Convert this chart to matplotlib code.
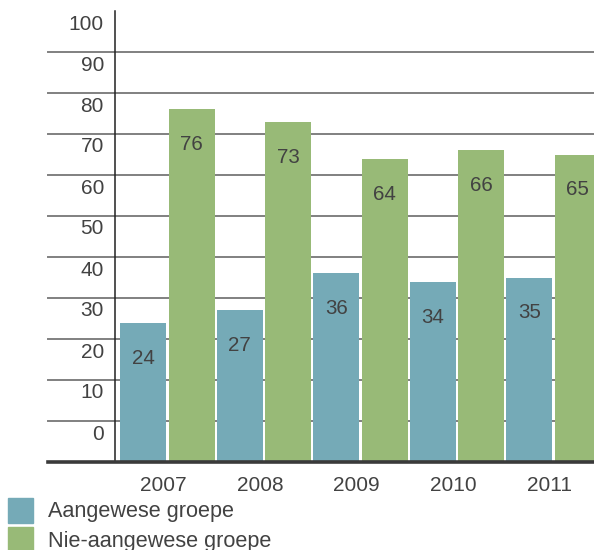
import numpy as np
import matplotlib
matplotlib.use("Agg")
import matplotlib.pyplot as plt
from matplotlib.patches import Rectangle
from matplotlib.transforms import ScaledTranslation

# chart data
years = ["2007", "2008", "2009", "2010", "2011"]
aangewese = [24, 27, 36, 34, 35]
nie_aangewese = [76, 73, 64, 66, 65]
series_names = ["Aangewese groepe", "Nie-aangewese groepe"]
y_ticks = list(range(0, 101, 10))

blue = "#75aab7"
green = "#98ba77"
text_col = "#424242"

plt.rcParams["font.family"] = ["Liberation Sans", "DejaVu Sans"]

fig = plt.figure(figsize=(5.94, 5.5), dpi=100)
ax = fig.add_axes([115 / 594, 1 - 462 / 550, 479 / 594, 451 / 550])

base = -10
x = np.arange(len(years))
w = 0.475
b1 = ax.bar(x - 0.25, np.array(aangewese) - base, w, bottom=base, color=blue, zorder=3)
b2 = ax.bar(x + 0.25, np.array(nie_aangewese) - base, w, bottom=base, color=green, zorder=3)

# value labels inside bars, near the top
for bars, vals in ((b1, aangewese), (b2, nie_aangewese)):
    for r, v in zip(bars, vals):
        ax.annotate(str(v), (r.get_x() + r.get_width() / 2, v), xytext=(0, -25.5),
                    textcoords="offset points", ha="center", va="center",
                    fontsize=14.8, color=text_col, zorder=4)

ax.set_xlim(-0.544, 4.42)
ax.set_ylim(base, 100)

# gridlines reaching out under the tick labels
ytr = ax.get_yaxis_transform()
for v in y_ticks[:-1]:
    ax.plot([-0.14, 1], [v, v], color="#808080", lw=1.4, transform=ytr,
            clip_on=False, zorder=1)
ax.plot([-0.14, 1], [base, base], color="#3a3a3a", lw=2.6, transform=ytr,
        clip_on=False, zorder=5)

for s in ["top", "right", "bottom"]:
    ax.spines[s].set_visible(False)
ax.spines["left"].set_color("#222222")
ax.spines["left"].set_linewidth(1.1)
ax.spines["left"].set_zorder(2)

ax.set_yticks(y_ticks)
ax.set_yticklabels([str(v) for v in y_ticks], fontsize=15, color=text_col)
ax.tick_params(axis="y", length=0, pad=8)
shift = ScaledTranslation(0, -13 / 100, fig.dpi_scale_trans)
for lab in ax.get_yticklabels():
    lab.set_verticalalignment("center")
    lab.set_transform(lab.get_transform() + shift)

ax.set_xticks(x - 0.04)
ax.set_xticklabels(years, fontsize=15, color=text_col)
ax.tick_params(axis="x", length=0, pad=10)

# legend
for i, (name, col) in enumerate(zip(series_names, [blue, green])):
    y0 = 498 + i * 29
    fig.patches.append(Rectangle((8 / 594, 1 - (y0 + 25) / 550), 25 / 594, 25 / 550,
                                 transform=fig.transFigure, color=col))
    fig.text(48 / 594, 1 - (y0 + 14) / 550, name, fontsize=15.6, color=text_col,
             va="center", ha="left")

fig.savefig("out.png", dpi=100)
